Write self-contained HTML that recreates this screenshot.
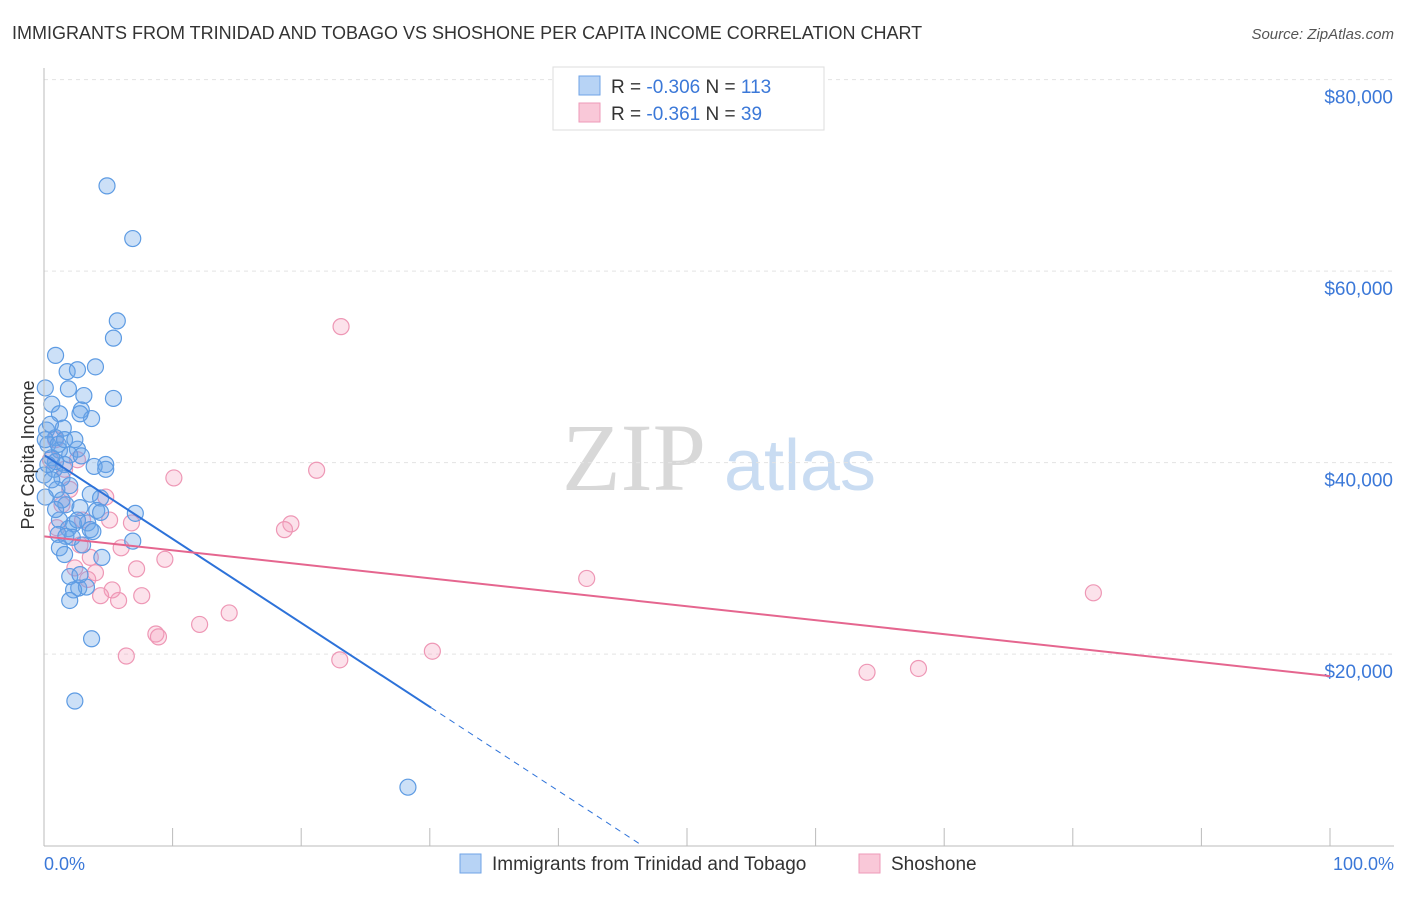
<!DOCTYPE html>
<html><head><meta charset="utf-8"><style>
body{margin:0;background:#fff;font-family:"Liberation Sans",sans-serif}
</style></head><body>
<svg id="c" width="1406" height="892" xmlns="http://www.w3.org/2000/svg" font-family="Liberation Sans, sans-serif">
<text x="12" y="39" font-size="18" fill="#333">IMMIGRANTS FROM TRINIDAD AND TOBAGO VS SHOSHONE PER CAPITA INCOME CORRELATION CHART</text>
<text x="1394" y="39" font-size="15" fill="#555" font-style="italic" text-anchor="end">Source: ZipAtlas.com</text>
<text x="634" y="490" font-size="96" fill="#d8d8d8" font-family="Liberation Serif, serif" text-anchor="middle">ZIP</text>
<text x="800" y="490" font-size="72" fill="#c9dcf2" text-anchor="middle">atlas</text>
<g id="grid"></g><g id="marks"></g><g id="lines"></g>
<line x1="44" y1="68" x2="44" y2="846" stroke="#bbb"/>
<line x1="44" y1="846" x2="1394" y2="846" stroke="#bbb"/>
<text x="34" y="455" font-size="18" fill="#333" transform="rotate(-90 34 455)" text-anchor="middle">Per Capita Income</text>
<text x="44" y="870" font-size="18" fill="#3b78d8">0.0%</text>
<text x="1394" y="870" font-size="18" fill="#3b78d8" text-anchor="end">100.0%</text>
<g>
<rect x="553" y="67" width="271" height="63" fill="#fff" stroke="#ddd"/>
<rect x="579" y="76" width="21" height="19" fill="#b7d3f5" stroke="#6fa3e6"/>
<rect x="579" y="103" width="21" height="19" fill="#f9c8d8" stroke="#ee9ab8"/>
<text x="611" y="93" font-size="19" fill="#333">R = <tspan fill="#3b78d8">-0.306</tspan>   N = <tspan fill="#3b78d8">113</tspan></text>
<text x="611" y="120" font-size="19" fill="#333">R =  <tspan fill="#3b78d8">-0.361</tspan>   N =  <tspan fill="#3b78d8">39</tspan></text>
</g>
<g>
<rect x="460" y="854" width="21" height="19" fill="#b7d3f5" stroke="#6fa3e6"/>
<text x="492" y="870" font-size="19" fill="#333">Immigrants from Trinidad and Tobago</text>
<rect x="859" y="854" width="21" height="19" fill="#f9c8d8" stroke="#ee9ab8"/>
<text x="891" y="870" font-size="19" fill="#333">Shoshone</text>
</g>
</svg>
<script>
const yTicks=[20000,40000,60000,80000];
const yTickLabels=["$20,000","$40,000","$60,000","$80,000"];
const xTicks=[0,10,20,30,40,50,60,70,80,90,100];
const blueX=[4.9,6.9,5.7,5.4,0.9,4.0,1.8,2.6,0.1,1.9,5.4,3.1,0.6,2.9,1.2,3.7,2.8,1.5,0.2,0.9,0.3,2.6,1.2,2.0,0.6,2.9,4.8,3.9,4.8,1.6,0.8,1.4,0,2.0,1.0,0.1,3.6,4.4,1.7,2.8,4.1,7.1,4.4,1.2,2.3,3.4,1.9,3.6,3.8,1.1,2.2,1.7,6.9,1.2,4.5,2.0,2.7,3.3,2.3,2.0,3.7,2.4,28.3,0.1,0.5,1.1,1.6,2.4,0.9,0.3,0.6,1.4,0.9,2.6,3.0,1.6,2.8];
const blueY=[68900,63400,54800,53000,51200,50000,49500,49700,47800,47700,46700,47000,46100,45500,45100,44600,45100,43600,43400,42600,41900,41400,41300,40800,40500,40700,39800,39600,39300,39800,39300,38400,38700,37600,37200,36400,36700,36300,35600,35300,35000,34700,34800,34000,33600,33700,33100,33000,32800,32500,32200,32300,31800,31100,30100,28100,26900,27000,26700,25600,21600,15100,6100,42400,44000,41900,42400,42400,40100,39800,38200,36100,35100,34000,31400,30400,28300];
const pinkX=[23.1,10.1,21.2,19.2,18.7,42.2,81.6,23.0,30.2,64.0,68.0,14.4,12.1,8.7,8.9,6.4,9.4,7.2,7.6,5.8,5.3,4.4,4.0,3.6,6.0,6.8,4.8,5.1,1.0,2.4,3.4,2.8,0.9,1.6,0.5,2.0,3.0,1.4,2.6];
const pinkY=[54200,38400,39200,33600,33000,27900,26400,19400,20300,18100,18500,24300,23100,22100,21800,19800,29900,28900,26100,25600,26700,26100,28500,30100,31100,33700,36400,34000,33200,29000,27800,31400,42400,39300,40300,37200,34000,35600,40300];
const blueTrend=[40800,-877];  // intercept, slope per %
const blueSolidEnd=30.1;
const pinkTrend=[32300,-146];
const NS="http://www.w3.org/2000/svg";
const sx=v=>44+v*12.86, sy=v=>845.6-v/20000*191.5;
function mk(t,a,p){const e=document.createElementNS(NS,t);for(const k in a)e.setAttribute(k,a[k]);p.appendChild(e);return e;}
const grid=document.getElementById('grid'),marks=document.getElementById('marks'),lines=document.getElementById('lines');
yTicks.forEach((v,i)=>{
 const l=mk('line',{x1:44,x2:1394,y1:sy(v),y2:sy(v),stroke:'#e3e3e3','stroke-dasharray':'4,4'},grid);
 
 
 const t=mk('text',{x:1393,y:sy(v)+24,'font-size':19,fill:'#3b78d8','text-anchor':'end'},grid);
 t.textContent=yTickLabels[i];
 
 
});
xTicks.forEach(v=>{
 const l=mk('line',{x1:sx(v),x2:sx(v),y1:828,y2:846,stroke:'#bbb'},grid);
 
 
});
pinkX.forEach((x,i)=>{
 const c=mk('circle',{cx:sx(x),cy:sy(pinkY[i]),r:8,fill:'rgba(244,160,190,0.3)',stroke:'#ee97b5','stroke-width':1.2},marks);
 
 
});
blueX.forEach((x,i)=>{
 const c=mk('circle',{cx:sx(x),cy:sy(blueY[i]),r:8,fill:'rgba(110,165,232,0.35)',stroke:'#5d9be3','stroke-width':1.2},marks);
 
 
});
const bz=-blueTrend[0]/blueTrend[1];
let l1=mk('line',{x1:sx(0),y1:sy(blueTrend[0]),x2:sx(blueSolidEnd),y2:sy(blueTrend[0]+blueTrend[1]*blueSolidEnd),stroke:'#2d72d9','stroke-width':2},lines);


let l2=mk('line',{x1:sx(blueSolidEnd),y1:sy(blueTrend[0]+blueTrend[1]*blueSolidEnd),x2:sx(bz),y2:sy(0),stroke:'#2d72d9','stroke-width':1,'stroke-dasharray':'6,5'},lines);


let l3=mk('line',{x1:sx(0),y1:sy(pinkTrend[0]),x2:sx(100),y2:sy(pinkTrend[0]+pinkTrend[1]*100),stroke:'#e5668f','stroke-width':2},lines);


</script>
</body></html>
